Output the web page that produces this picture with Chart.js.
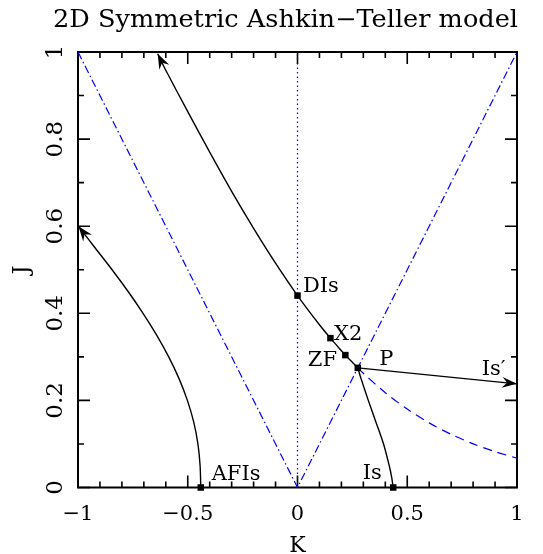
<!DOCTYPE html>
<html lang="en">
<head>
    <meta charset="UTF-8">
    <title>2D Symmetric Ashkin-Teller model</title>
    <script src="https://cdn.jsdelivr.net/npm/chart.js"></script>
    <style>
        body {
            margin: 0;
            background: #fff;
        }
        canvas {
            display: block;
        }
    </style>
</head>
<body>
    <canvas id="atChart" width="543" height="554" style="width:543px;height:554px"></canvas>

    <script>
        // axis ticks
        const xTicks = [-1, -0.9, -0.8, -0.7, -0.6, -0.5, -0.4, -0.3, -0.2, -0.1, 0, 0.1, 0.2, 0.3, 0.4, 0.5, 0.6, 0.7, 0.8, 0.9, 1];
        const xMajor = [-1, -0.5, 0, 0.5, 1];
        const xTickLabels = ['\u22121', '\u22120.5', '0', '0.5', '1'];
        const yTicks = [0, 0.1, 0.2, 0.3, 0.4, 0.5, 0.6, 0.7, 0.8, 0.9, 1];
        const yMajor = [0, 0.2, 0.4, 0.6, 0.8, 1];
        const yTickLabels = ['0', '0.2', '0.4', '0.6', '0.8', '1'];

        // self-dual line, P up to the top arrow (through ZF, X2, DIs)
        const dualK = [0.2747, 0.22, 0.2, 0.15, 0.1, 0, -0.1, -0.2, -0.3, -0.4, -0.5, -0.6, -0.637];
        const dualJ = [0.2747, 0.303, 0.3141, 0.3429, 0.3736, 0.4407, 0.515, 0.595, 0.680, 0.770, 0.863, 0.958, 0.996];

        // self-dual continuation beyond P (dashed)
        const lowK = [0.2747, 0.3, 0.4, 0.5, 0.6, 0.7, 0.8, 0.9, 1.0];
        const lowJ = [0.2747, 0.2622, 0.2177, 0.18, 0.1484, 0.1221, 0.1003, 0.0823, 0.0675];

        // Ising line P -> Is
        const isK = [0.2747, 0.2895, 0.3225, 0.3575, 0.392, 0.418, 0.4285, 0.436];
        const isJ = [0.2747, 0.25, 0.2, 0.15, 0.1, 0.05, 0.025, 0];

        // Is' line P -> right edge
        const isPrimeK = [0.2747, 1.0];
        const isPrimeJ = [0.2747, 0.238];

        // antiferro Ising line
        const afK = [-0.4407, -0.4437, -0.4537, -0.4727, -0.5017, -0.5397, -0.5867, -0.6417, -0.7037, -0.7717, -0.8447, -0.9217, -0.998];
        const afJ = [0, 0.05, 0.1, 0.15, 0.2, 0.25, 0.3, 0.35, 0.4, 0.45, 0.5, 0.55, 0.6];

        // blue guides
        const diagK = [-1, 0, 1];
        const diagJ = [1, 0, 1];
        const axisK = [0, 0];
        const axisJ = [0, 1];

        // special points
        const pointNames = ['DIs', 'X2', 'ZF', 'P', 'AFIs', 'Is'];
        const pointK = [0, 0.15, 0.218, 0.2747, -0.4407, 0.436];
        const pointJ = [0.4407, 0.343, 0.304, 0.2747, 0, 0];

        // text labels next to the points
        const labelText = ['DIs', 'X2', 'ZF', 'P', 'Is\u2032', 'Is', 'AFIs'];
        const labelK = [0.025, 0.166, 0.18, 0.373, 0.839, 0.297, -0.391];
        const labelJ = [0.449, 0.339, 0.279, 0.281, 0.258, 0.019, 0.017];
        const labelAlign = ['left', 'left', 'right', 'left', 'left', 'left', 'left'];

        function xy(ks, js) {
            return ks.map((k, i) => ({ x: k, y: js[i] }));
        }

        const SERIF = '"DejaVu Serif", "Liberation Serif", serif';
        const BLUE = '#0000ff';

        function near(list, v) {
            return list.findIndex(m => Math.abs(m - v) < 1e-6);
        }

        const framePlugin = {
            id: 'frame',
            beforeDatasetsDraw(chart) {
                const { ctx, chartArea: a, scales: { x, y } } = chart;
                ctx.save();
                ctx.strokeStyle = '#000';
                ctx.lineWidth = 1.6;
                ctx.beginPath();
                xTicks.forEach(v => {
                    const px = x.getPixelForValue(v);
                    const len = near(xMajor, v) >= 0 ? 12 : 6;
                    ctx.moveTo(px, a.bottom); ctx.lineTo(px, a.bottom - len);
                    ctx.moveTo(px, a.top); ctx.lineTo(px, a.top + len);
                });
                yTicks.forEach(v => {
                    const py = y.getPixelForValue(v);
                    const len = near(yMajor, v) >= 0 ? 12 : 6;
                    ctx.moveTo(a.left, py); ctx.lineTo(a.left + len, py);
                    ctx.moveTo(a.right, py); ctx.lineTo(a.right - len, py);
                });
                ctx.stroke();
                ctx.lineWidth = 2;
                ctx.strokeRect(a.left, a.top, a.right - a.left, a.bottom - a.top);
                ctx.restore();
            },
            afterDatasetsDraw(chart) {
                // arrow heads at the end of the flow lines
                const ctx = chart.ctx;
                [1, 3, 4].forEach(di => {
                    const pts = chart.getDatasetMeta(di).data;
                    const tip = pts[pts.length - 1];
                    const prev = pts[pts.length - 2];
                    const ang = Math.atan2(tip.y - prev.y, tip.x - prev.x);
                    ctx.save();
                    ctx.translate(tip.x, tip.y);
                    ctx.rotate(ang);
                    ctx.fillStyle = '#000';
                    ctx.beginPath();
                    ctx.moveTo(0, 0);
                    ctx.lineTo(-15, -5.5);
                    ctx.lineTo(-10, 0);
                    ctx.lineTo(-15, 5.5);
                    ctx.closePath();
                    ctx.fill();
                    ctx.restore();
                });
            },
            afterDraw(chart) {
                const { ctx, chartArea: a, scales: { x, y } } = chart;
                ctx.save();
                ctx.fillStyle = '#000';
                ctx.textBaseline = 'alphabetic';

                // title, stretched to the width of the original
                ctx.save();
                ctx.font = '24px ' + SERIF;
                ctx.textAlign = 'left';
                const title = '2D Symmetric Ashkin\u2212Teller model';
                const w = ctx.measureText(title).width;
                ctx.translate(53, 27);
                ctx.scale(465 / w, 1);
                ctx.fillText(title, 0, 0);
                ctx.restore();

                ctx.textAlign = 'center';
                // x tick labels
                ctx.font = '21px ' + SERIF;
                xMajor.forEach((v, i) => {
                    ctx.fillText(xTickLabels[i], x.getPixelForValue(v), a.bottom + 32.5);
                });
                ctx.font = '22px ' + SERIF;
                ctx.fillText('K', x.getPixelForValue(0), 552);

                // y tick labels, rotated
                ctx.font = '23px ' + SERIF;
                yMajor.forEach((v, i) => {
                    ctx.save();
                    ctx.translate(a.left - 16, y.getPixelForValue(v));
                    ctx.rotate(-Math.PI / 2);
                    ctx.fillText(yTickLabels[i], 0, 0);
                    ctx.restore();
                });
                ctx.save();
                ctx.font = '22px ' + SERIF;
                ctx.translate(28, (a.top + a.bottom) / 2);
                ctx.rotate(-Math.PI / 2);
                ctx.fillText('J', 0, 0);
                ctx.restore();

                // point labels
                ctx.font = '21px ' + SERIF;
                labelText.forEach((t, i) => {
                    ctx.textAlign = labelAlign[i];
                    ctx.fillText(t, x.getPixelForValue(labelK[i]), y.getPixelForValue(labelJ[i]));
                });
                ctx.restore();
            }
        };

        const lineBase = { showLine: true, pointRadius: 0, fill: false, tension: 0.3 };

        new Chart(document.getElementById('atChart'), {
            type: 'scatter',
            data: {
                datasets: [
                    { label: 'points', data: xy(pointK, pointJ), pointStyle: 'rect', pointRadius: 4.6,
                      backgroundColor: '#000', borderColor: '#000', borderWidth: 0, showLine: false, clip: false },
                    { ...lineBase, label: 'self-dual', data: xy(dualK, dualJ), borderColor: '#000', borderWidth: 1.4 },
                    { ...lineBase, label: 'Is', data: xy(isK, isJ), borderColor: '#000', borderWidth: 1.4 },
                    { ...lineBase, label: "Is'", data: xy(isPrimeK, isPrimeJ), borderColor: '#000', borderWidth: 1.4, tension: 0 },
                    { ...lineBase, label: 'AFIs', data: xy(afK, afJ), borderColor: '#000', borderWidth: 1.4 },
                    { ...lineBase, label: 'self-dual low', data: xy(lowK, lowJ), borderColor: BLUE, borderWidth: 1.2, borderDash: [9, 6] },
                    { ...lineBase, label: 'K=0', data: xy(axisK, axisJ), borderColor: BLUE, borderWidth: 1.2, borderDash: [1.5, 3], tension: 0 },
                    { ...lineBase, label: 'diagonals', data: xy(diagK, diagJ), borderColor: BLUE, borderWidth: 1.2, borderDash: [8, 3, 1.5, 3], tension: 0 }
                ]
            },
            options: {
                responsive: false,
                animation: false,
                devicePixelRatio: 1,
                layout: { padding: { left: 78, right: 26, top: 52, bottom: 66.5 } },
                scales: {
                    x: { type: 'linear', min: -1, max: 1, display: false },
                    y: { type: 'linear', min: 0, max: 1, display: false }
                },
                plugins: {
                    legend: { display: false },
                    tooltip: { enabled: false }
                }
            },
            plugins: [framePlugin]
        });
    </script>
</body>
</html>
